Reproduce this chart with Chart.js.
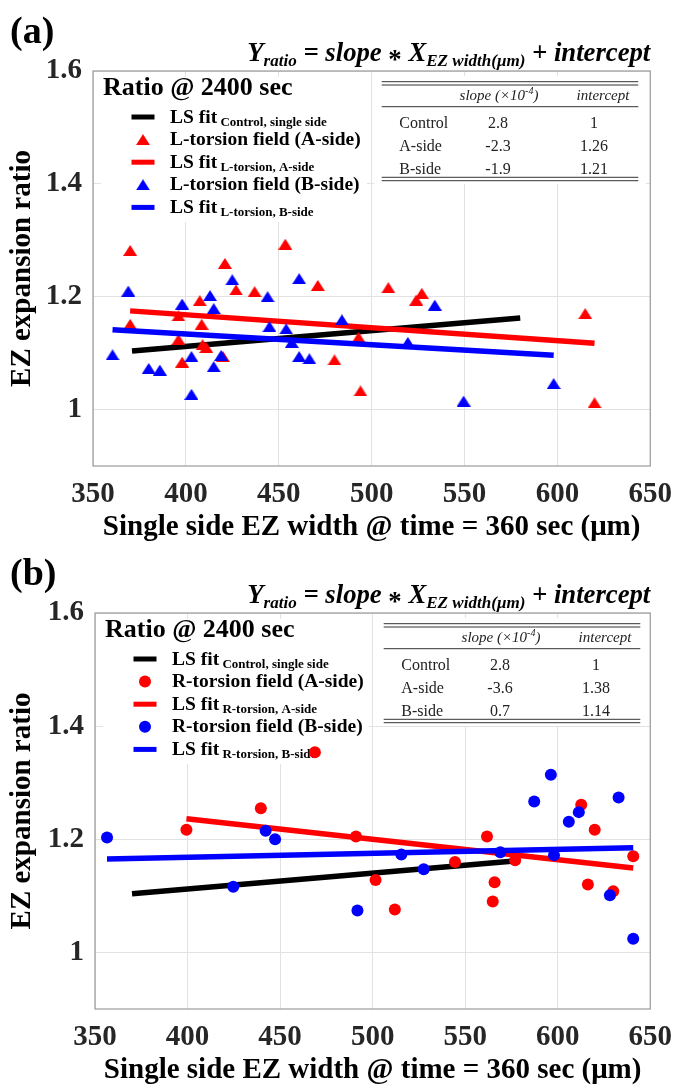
<!DOCTYPE html>
<html>
<head>
<meta charset="utf-8">
<script src="https://cdn.jsdelivr.net/npm/chart.js@4.4.1/dist/chart.umd.min.js"></script>
<style>
  html, body { margin: 0; padding: 0; background: #fff; }
  canvas { display: block; }
</style>
</head>
<body>
<canvas id="chartL" width="683" height="542"></canvas>
<canvas id="chartR" width="683" height="543"></canvas>
<script>
const SERIF = '"Liberation Serif", "Times New Roman", serif';
const RED = '#ff0000', BLUE = '#0000ff', BLACK = '#000000';

// axes
const xTicks = [350, 400, 450, 500, 550, 600, 650];
const yTicks = [1, 1.2, 1.4, 1.6];
const fitNames = ['Control', 'A-side', 'B-side'];

// (a) L-torsion field, [EZ width um, ratio]
const lTorsionA = [
  [370, 1.282], [370, 1.151], [453.5, 1.293], [421, 1.259], [427, 1.212], [437, 1.209],
  [407.5, 1.193], [396, 1.166], [408.5, 1.151], [396, 1.124], [409, 1.115], [411, 1.11],
  [398, 1.084], [420, 1.094], [471, 1.22], [493, 1.128], [480, 1.088], [494, 1.033],
  [509, 1.216], [524, 1.194], [527, 1.206], [615, 1.17], [620, 1.012]
];
const lTorsionB = [
  [360.5, 1.097], [369, 1.21], [380, 1.073], [386, 1.07], [398, 1.187], [403, 1.094],
  [403, 1.027], [413, 1.202], [415, 1.179], [415, 1.076], [419, 1.096], [425, 1.23],
  [444, 1.2], [445, 1.147], [454, 1.143], [457, 1.119], [461, 1.232], [461, 1.094],
  [466.5, 1.09], [484, 1.159], [519.5, 1.119], [534, 1.185], [549.5, 1.015], [598, 1.046]
];
const lSlope = [2.8, -2.3, -1.9];      // x 10^-4
const lIntercept = [1, 1.26, 1.21];
const lFitRange = [[371, 580], [370, 620], [360.5, 598]];

// (b) R-torsion field
const rTorsionA = [
  [468.8, 1.354], [399.4, 1.217], [439.6, 1.255], [491, 1.205], [501.6, 1.128], [512, 1.076],
  [544.5, 1.16], [561.8, 1.205], [565.9, 1.124], [564.9, 1.09], [577, 1.163], [612.7, 1.261],
  [620, 1.217], [616.3, 1.12], [630, 1.108], [640.8, 1.17]
];
const rTorsionB = [
  [356.5, 1.203], [424.7, 1.116], [442.2, 1.215], [447.3, 1.2], [491.8, 1.074], [515.5, 1.173],
  [527.6, 1.147], [569, 1.177], [587.3, 1.267], [596.3, 1.314], [598, 1.172], [606, 1.231],
  [611.4, 1.248], [628.2, 1.101], [632.9, 1.274], [640.8, 1.024]
];
const rSlope = [2.8, -3.6, 0.7];
const rIntercept = [1, 1.38, 1.14];
const rFitRange = [[370, 575], [399.4, 640.8], [356.5, 640.8]];

// flattened triangle marker
function makeTriangle(color, w, h) {
  const c = document.createElement('canvas');
  c.width = w; c.height = h;
  const g = c.getContext('2d');
  g.fillStyle = color;
  g.beginPath();
  g.moveTo(w / 2, 0); g.lineTo(w, h); g.lineTo(0, h);
  g.closePath(); g.fill();
  return c;
}
const triRed = makeTriangle(RED, 14, 11);
const triBlue = makeTriangle(BLUE, 14, 11);

function fitLine(slope, icpt, range) {
  return range.map(x => ({ x: x, y: icpt + slope * 1e-4 * x }));
}
const toXY = pts => pts.map(p => ({ x: p[0], y: p[1] }));

function richWidth(ctx, segs) {
  let w = 0;
  segs.forEach(s => { ctx.font = s.f; w += ctx.measureText(s.t).width; });
  return w;
}
function drawRich(ctx, segs, x, y, align) {
  const w = richWidth(ctx, segs);
  let cx = align === 'right' ? x - w : align === 'center' ? x - w / 2 : x;
  ctx.textAlign = 'left';
  ctx.textBaseline = 'alphabetic';
  segs.forEach(s => {
    ctx.font = s.f;
    ctx.fillText(s.t, cx, y + (s.dy || 0));
    cx += ctx.measureText(s.t).width;
  });
}

function overlay(p) {
  return {
    id: 'overlay',
    beforeDatasetsDraw(chart) {
      const ctx = chart.ctx, L = chart.chartArea.left, T = chart.chartArea.top;
      ctx.save();
      ctx.fillStyle = '#fff';
      ctx.fillRect(L + 8, T + 6, 266, 145);
      ctx.fillRect(L + 281, T + 5, 272, 108);

      // legend
      ctx.fillStyle = BLACK;
      ctx.font = `bold 26px ${SERIF}`;
      ctx.textBaseline = 'alphabetic';
      ctx.fillText('Ratio @ 2400 sec', L + 10, T + 24);
      p.legend.forEach((e, i) => {
        const base = T + 51.5 + i * 22.6;
        const mx = L + 50, my = base - 5.5;
        if (e.line) {
          ctx.fillStyle = e.color;
          ctx.fillRect(mx - 11.5, my - 2.5, 23, 5);
        } else if (p.marker === 'triangle') {
          const img = e.color === RED ? triRed : triBlue;
          ctx.drawImage(img, mx - 7, my - 5.5);
        } else {
          ctx.fillStyle = e.color;
          ctx.beginPath(); ctx.arc(mx, my, 6, 0, Math.PI * 2); ctx.fill();
        }
        ctx.fillStyle = BLACK;
        const segs = [{ t: e.main, f: `bold 19.5px ${SERIF}` }];
        if (e.sub) segs.push({ t: ' ' + e.sub, f: `bold 13px ${SERIF}`, dy: 3 });
        drawRich(ctx, segs, L + 77, base, 'left');
      });

      // fit table
      const x0 = L + 288.7, x1 = L + 545.3;
      ctx.strokeStyle = '#333'; ctx.lineWidth = 1;
      [10.7, 14, 35.7, 106.3, 109.7].forEach(dy => {
        ctx.beginPath(); ctx.moveTo(x0, T + dy); ctx.lineTo(x1, T + dy); ctx.stroke();
      });
      ctx.fillStyle = '#222';
      drawRich(ctx, [
        { t: 'slope (×10', f: `italic 15px ${SERIF}` },
        { t: '-4', f: `italic 10px ${SERIF}`, dy: -6 },
        { t: ')', f: `italic 15px ${SERIF}` }
      ], L + 406, T + 29, 'center');
      drawRich(ctx, [{ t: 'intercept', f: `italic 15px ${SERIF}` }], L + 510, T + 29, 'center');
      fitNames.forEach((n, i) => {
        const base = T + 57.3 + i * 23;
        const f = `16px ${SERIF}`;
        drawRich(ctx, [{ t: n, f }], L + 306.3, base, 'left');
        drawRich(ctx, [{ t: String(p.slope[i]), f }], L + 405, base, 'center');
        drawRich(ctx, [{ t: String(p.intercept[i]), f }], L + 501, base, 'center');
      });
      ctx.restore();
    },
    afterDatasetsDraw(chart) {
      const ctx = chart.ctx, a = chart.chartArea;
      ctx.save();
      ctx.strokeStyle = '#9b9b9b'; ctx.lineWidth = 1.2;
      ctx.strokeRect(a.left, a.top, a.right - a.left, a.bottom - a.top);

      // panel tag
      ctx.fillStyle = BLACK;
      ctx.font = `bold 38px ${SERIF}`;
      ctx.textBaseline = 'alphabetic';
      ctx.fillText(p.tag, 10, 43);

      // fit equation, sized to span from x=247 to the right edge of the axes
      const F = (s) => `italic bold ${s}px ${SERIF}`;
      const eq = (s) => [
        { t: 'Y', f: F(s) },
        { t: 'ratio', f: F(s * 0.64), dy: s * 0.2 },
        { t: ' = slope ', f: F(s) },
        { t: '*', f: `bold ${s}px ${SERIF}`, dy: s * 0.28 },
        { t: ' X', f: F(s) },
        { t: 'EZ width(μm)', f: F(s * 0.64), dy: s * 0.2 },
        { t: ' + intercept', f: F(s) }
      ];
      const s = 22 * (a.right - 247) / richWidth(ctx, eq(22));
      drawRich(ctx, eq(s), a.right, a.top - 10, 'right');
      ctx.restore();
    }
  };
}

function buildChart(id, p) {
  const tickFont = { family: SERIF, size: 29, weight: 'bold' };
  const titleFont = { family: SERIF, size: 29, weight: 'bold', lineHeight: 1 };
  const isTri = p.marker === 'triangle';
  const pointOpts = (color, img) => isTri
    ? { pointStyle: img, pointRadius: 7, backgroundColor: color, borderWidth: 0 }
    : { pointStyle: 'circle', pointRadius: 6, backgroundColor: color, borderColor: color, borderWidth: 0 };
  const lineOpts = color => ({ showLine: true, borderColor: color, borderWidth: 5.5, pointRadius: 0, fill: false });

  return new Chart(document.getElementById(id), {
    type: 'scatter',
    data: {
      datasets: [
        Object.assign({ label: 'LS fit Control', data: fitLine(p.slope[0], p.intercept[0], p.range[0]), order: 5 }, lineOpts(BLACK)),
        Object.assign({ label: 'A-side', data: toXY(p.sideA), order: 4 }, pointOpts(RED, triRed)),
        Object.assign({ label: 'LS fit A-side', data: fitLine(p.slope[1], p.intercept[1], p.range[1]), order: 3 }, lineOpts(RED)),
        Object.assign({ label: 'B-side', data: toXY(p.sideB), order: 2 }, pointOpts(BLUE, triBlue)),
        Object.assign({ label: 'LS fit B-side', data: fitLine(p.slope[2], p.intercept[2], p.range[2]), order: 1 }, lineOpts(BLUE))
      ]
    },
    options: {
      responsive: false,
      animation: false,
      layout: { padding: { left: 0, top: 71, right: 24, bottom: 0 } },
      plugins: { legend: { display: false }, tooltip: { enabled: false } },
      scales: {
        x: {
          type: 'linear', min: 350, max: 650,
          afterBuildTicks: s => { s.ticks = xTicks.map(v => ({ value: v })); },
          afterFit: s => { s.height = 76; },
          grid: { color: '#e2e2e2', lineWidth: 1, drawTicks: false },
          border: { display: false },
          ticks: { font: tickFont, color: '#262626', padding: 11 },
          title: { display: true, text: 'Single side EZ width @ time = 360 sec (μm)', font: titleFont, color: BLACK, padding: { top: 0, bottom: 0 } }
        },
        y: {
          type: 'linear', min: 0.9, max: 1.6,
          afterBuildTicks: s => { s.ticks = yTicks.map(v => ({ value: v })); },
          afterFit: s => { s.width = p.axisWidth; },
          grid: { color: '#e2e2e2', lineWidth: 1, drawTicks: false },
          border: { display: false },
          ticks: { font: tickFont, color: '#262626', padding: 11, callback: v => String(v) },
          title: { display: true, text: 'EZ expansion ratio', font: titleFont, color: BLACK, padding: { top: 8, bottom: 0 } }
        }
      }
    },
    plugins: [overlay(p)]
  });
}

buildChart('chartL', {
  tag: '(a)', marker: 'triangle', axisWidth: 93,
  sideA: lTorsionA, sideB: lTorsionB,
  slope: lSlope, intercept: lIntercept, range: lFitRange,
  legend: [
    { line: true, color: BLACK, main: 'LS fit', sub: 'Control, single side' },
    { color: RED, main: 'L-torsion field (A-side)' },
    { line: true, color: RED, main: 'LS fit', sub: 'L-torsion, A-side' },
    { color: BLUE, main: 'L-torsion field (B-side)' },
    { line: true, color: BLUE, main: 'LS fit', sub: 'L-torsion, B-side' }
  ]
});

buildChart('chartR', {
  tag: '(b)', marker: 'circle', axisWidth: 95,
  sideA: rTorsionA, sideB: rTorsionB,
  slope: rSlope, intercept: rIntercept, range: rFitRange,
  legend: [
    { line: true, color: BLACK, main: 'LS fit', sub: 'Control, single side' },
    { color: RED, main: 'R-torsion field (A-side)' },
    { line: true, color: RED, main: 'LS fit', sub: 'R-torsion, A-side' },
    { color: BLUE, main: 'R-torsion field (B-side)' },
    { line: true, color: BLUE, main: 'LS fit', sub: 'R-torsion, B-side' }
  ]
});
</script>
</body>
</html>
